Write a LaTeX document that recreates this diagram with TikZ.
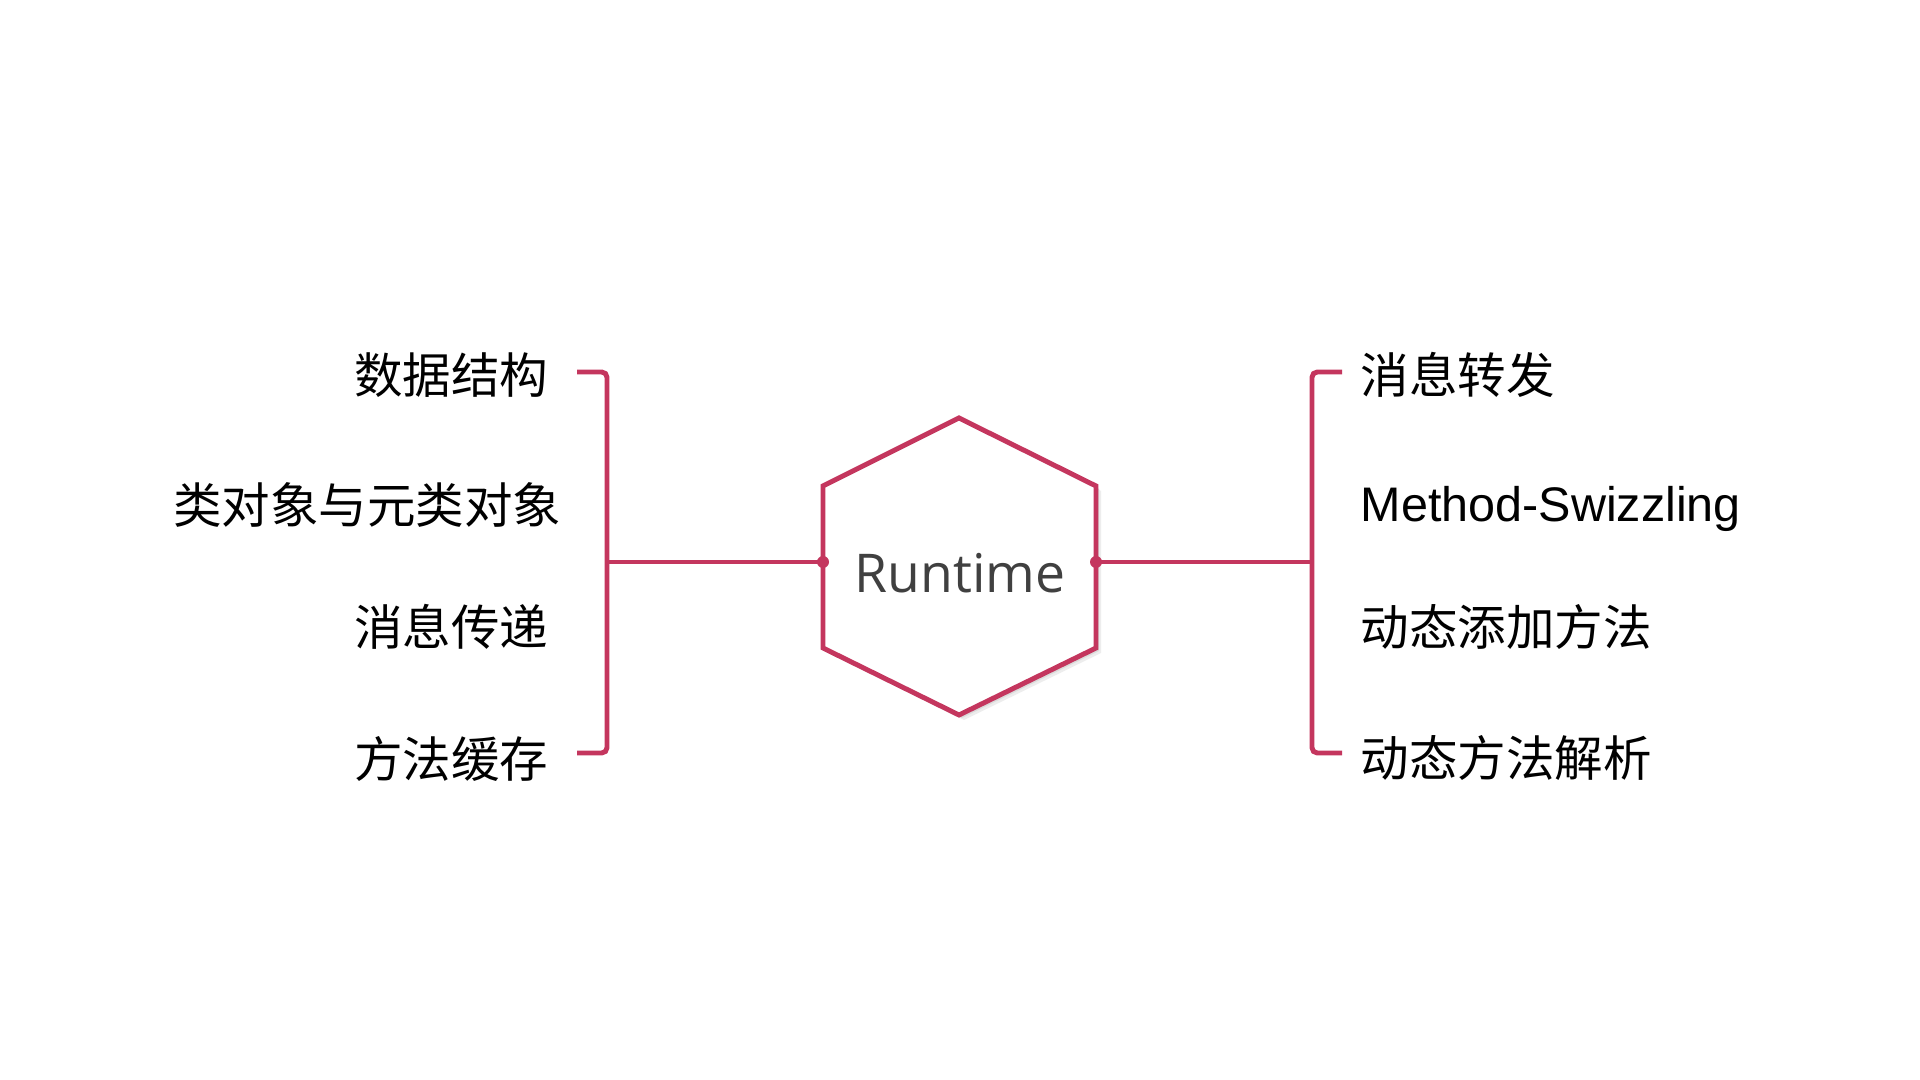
\documentclass[tikz,border=0pt]{standalone}
\usepackage{fontspec}
\setmainfont{Liberation Sans}
\newfontfamily\cjk{Noto Sans CJK SC}
\newfontfamily\corefont{Open Sans}
\usepackage{xcolor}
\usepackage{tikz}
\usetikzlibrary{positioning}

\definecolor{rtred}{RGB}{196,54,94}
\definecolor{rtgrey}{RGB}{64,64,64}
\newcommand{\hexoutline}{(959,418) -- (1096,486) -- (1096,648) -- (959,715) -- (823,648) -- (823,486) -- cycle}

\tikzset{
  topic/.style={font=\cjk\fontsize{13.8pt}{16pt}\selectfont, inner sep=0pt},
  branch/.style={draw=rtred, line width=1.4pt, rounded corners=1.5pt},
  hexline/.style={draw=rtred, line width=1.4pt, fill=white},
}

\begin{document}
\begin{tikzpicture}[x=0.01cm,y=-0.01cm]
\useasboundingbox[fill=white] (0,0) rectangle (1920,1080);

% centre hexagon with a soft shadow
\fill[black!7, shift={(5,5)}] \hexoutline;
\fill[black!14, shift={(3,3)}] \hexoutline;
\draw[hexline] \hexoutline;
\node[font=\corefont\fontsize{15.2pt}{18pt}\selectfont, text=rtgrey, anchor=base] (core) at (960,593) {Runtime};
\coordinate (hexL) at (823,562);
\coordinate (hexR) at (1096,562);

% left branch
\coordinate (lt) at (577,372);
\coordinate (lm) at (607,562);
\coordinate (lb) at (577,753);
\draw[branch] (lt) -| (lm) |- (lb);
\draw[branch] (hexL) -- (lm);

% right branch
\coordinate (rt) at (1342,372);
\coordinate (rm) at (1312,562);
\coordinate (rb) at (1342,753);
\draw[branch] (rt) -| (rm) |- (rb);
\draw[branch] (hexR) -- (rm);

\fill[rtred] (hexL) circle[radius=6];
\fill[rtred] (hexR) circle[radius=6];

\foreach \name/\label/\x/\y in {
    ds/数据结构/549/394,
    cls/类对象与元类对象/562/524,
    msg/消息传递/549/646,
    cache/方法缓存/549/778
} {
    \node[topic, anchor=base east] (\name) at (\x,\y) {\label};
}

\foreach \name/\label/\y in {
    fwd/消息转发/394,
    swz/{\normalfont Method-Swizzling}/522,
    add/动态添加方法/646,
    res/动态方法解析/777
} {
    \node[topic, anchor=base west] (\name) at (1360,\y) {\label};
}
\end{tikzpicture}
\end{document}
